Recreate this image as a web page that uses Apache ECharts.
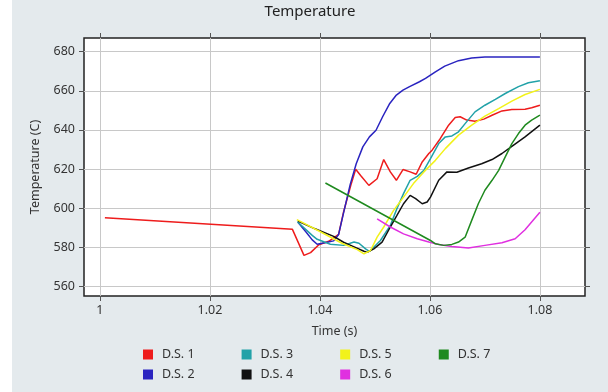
<!DOCTYPE html>
<html><head><meta charset="utf-8">
<script src="https://cdn.jsdelivr.net/npm/echarts@6/dist/echarts.min.js"></script>
<style>html,body{margin:0;padding:0;background:#fff;overflow:hidden}#chart{position:absolute;left:12px;top:0;width:596px;height:392px;}</style>
</head><body><div id="chart"></div>
<script>
const seriesNames = ['D.S. 1', 'D.S. 2', 'D.S. 3', 'D.S. 4', 'D.S. 5', 'D.S. 6', 'D.S. 7'];
const ds1 = [[1.0009,595.0],[1.0350,589.1],[1.0371,575.8],[1.0383,577.2],[1.0398,581.2],[1.0416,583.0],[1.0434,586.5],[1.0443,598.0],[1.0456,611.5],[1.0465,619.8],[1.0474,616.7],[1.0489,611.6],[1.0504,615.0],[1.0516,624.8],[1.0528,618.5],[1.0539,614.2],[1.0551,619.7],[1.0564,618.5],[1.0575,617.3],[1.0586,623.6],[1.0598,627.9],[1.0604,629.6],[1.0619,635.6],[1.0634,642.4],[1.0646,646.3],[1.0655,646.7],[1.0667,645.0],[1.0682,644.4],[1.0698,645.5],[1.0713,647.5],[1.0731,649.7],[1.0749,650.4],[1.0773,650.6],[1.0785,651.3],[1.0800,652.6]];
const ds2 = [[1.0360,592.7],[1.0374,588.0],[1.0386,583.7],[1.0395,581.5],[1.0413,582.5],[1.0425,583.2],[1.0434,586.5],[1.0443,597.5],[1.0455,612.0],[1.0466,622.7],[1.0478,631.3],[1.0490,636.4],[1.0502,639.8],[1.0514,646.7],[1.0527,653.5],[1.0539,657.8],[1.0551,660.3],[1.0563,662.1],[1.0581,664.6],[1.0592,666.3],[1.0610,669.7],[1.0627,672.6],[1.0652,675.4],[1.0676,676.8],[1.0700,677.3],[1.0800,677.3]];
const ds3 = [[1.0359,593.0],[1.0386,586.0],[1.0395,584.0],[1.0419,581.5],[1.0443,580.9],[1.0462,582.6],[1.0471,582.0],[1.0483,579.1],[1.0490,577.8],[1.0510,583.4],[1.0528,591.1],[1.0540,599.7],[1.0552,607.4],[1.0564,614.2],[1.0577,616.2],[1.0589,619.3],[1.0601,625.3],[1.0616,633.0],[1.0628,636.4],[1.0640,636.9],[1.0652,639.0],[1.0664,643.2],[1.0682,649.2],[1.0700,652.6],[1.0719,655.6],[1.0737,658.6],[1.0761,662.1],[1.0779,664.1],[1.0800,665.1]];
const ds4 = [[1.0360,593.3],[1.0390,589.5],[1.0425,585.5],[1.0443,582.5],[1.0456,580.9],[1.0480,577.9],[1.0486,577.4],[1.0498,579.1],[1.0513,582.6],[1.0528,590.3],[1.0540,596.2],[1.0552,602.2],[1.0564,606.5],[1.0574,604.8],[1.0586,602.2],[1.0595,603.1],[1.0601,605.6],[1.0616,614.2],[1.0631,618.5],[1.0649,618.3],[1.0670,620.5],[1.0694,622.7],[1.0713,624.8],[1.0731,627.9],[1.0749,631.6],[1.0773,636.4],[1.0800,642.4]];
const ds5 = [[1.0358,594.1],[1.0400,588.0],[1.0440,582.0],[1.0468,578.7],[1.0480,576.6],[1.0492,578.3],[1.0504,585.1],[1.0516,590.3],[1.0534,598.8],[1.0552,605.6],[1.0570,612.5],[1.0589,618.5],[1.0610,624.4],[1.0628,630.4],[1.0652,637.3],[1.0676,642.4],[1.0700,647.0],[1.0725,650.9],[1.0749,654.7],[1.0773,658.1],[1.0800,660.7]];
const ds6 = [[1.0504,594.5],[1.0528,590.3],[1.0552,586.8],[1.0577,584.3],[1.0598,582.6],[1.0616,581.4],[1.0640,580.3],[1.0670,579.6],[1.0700,580.9],[1.0731,582.2],[1.0755,584.3],[1.0773,588.9],[1.0800,597.9]];
const ds7 = [[1.0410,612.8],[1.0601,583.4],[1.0610,581.7],[1.0625,580.9],[1.0640,581.4],[1.0652,582.6],[1.0664,585.1],[1.0676,593.7],[1.0688,602.2],[1.0700,609.1],[1.0713,614.2],[1.0725,619.3],[1.0737,626.2],[1.0749,633.0],[1.0761,638.1],[1.0773,642.4],[1.0785,645.0],[1.0800,647.5]];
const xTicks = [1, 1.02, 1.04, 1.06, 1.08];
const yTicks = [560, 580, 600, 620, 640, 660, 680];
const colors = ['#ee1c1c', '#2a24c0', '#22a2a8', '#111111', '#f2f21a', '#e030e0', '#1f8a1f'];
const allData = [ds1, ds2, ds3, ds4, ds5, ds6, ds7];

const FONT = "'Noto Sans', sans-serif";
const X_MIN = 0.9971, X_MAX = 1.0882, Y_MIN = 555, Y_MAX = 687;
const tickStyle = {color: '#555', width: 1};

const chart = echarts.init(document.getElementById('chart'), null, {renderer: 'canvas'});
const legendCommon = {
  icon: 'rect', itemWidth: 10, itemHeight: 10, itemGap: 47, padding: 0, orient: 'horizontal',
  textStyle: {fontFamily: FONT, fontSize: 12.5, color: '#333', padding: [0, 0, 0, 4]}
};
chart.setOption({
  animation: false,
  backgroundColor: '#e4eaed',
  color: colors,
  title: {text: 'Temperature', left: 'center', top: 4, padding: 0,
    textStyle: {fontFamily: FONT, fontSize: 15, fontWeight: 'normal', color: '#222'}},
  legend: [
    Object.assign({}, legendCommon, {left: 131, top: 348, data: [seriesNames[0], seriesNames[2], seriesNames[4], seriesNames[6]]}),
    Object.assign({}, legendCommon, {left: 131, top: 368, data: [seriesNames[1], seriesNames[3], seriesNames[5]]})
  ],
  grid: {left: 72, right: 23, top: 38, bottom: 96, show: true, backgroundColor: '#ffffff', borderColor: '#222', borderWidth: 1.5, containLabel: false},
  xAxis: [
    {type: 'value', position: 'bottom', min: X_MIN, max: X_MAX,
      name: 'Time (s)', nameLocation: 'middle', nameGap: 29,
      nameTextStyle: {fontFamily: FONT, fontSize: 12.5, color: '#333'},
      axisLine: {show: false, onZero: false},
      axisTick: {show: true, inside: false, length: 5, customValues: xTicks, lineStyle: tickStyle},
      axisLabel: {customValues: xTicks, margin: 8, fontFamily: FONT, fontSize: 12.5, color: '#333',
        formatter: v => String(+(+v).toFixed(2))},
      splitLine: {show: true, lineStyle: {color: '#c8c8c8', width: 1}}},
    {type: 'value', position: 'top', min: X_MIN, max: X_MAX,
      axisLine: {show: false, onZero: false},
      axisTick: {show: true, inside: false, length: 5, customValues: xTicks, lineStyle: tickStyle},
      axisLabel: {show: false}, splitLine: {show: false}}
  ],
  yAxis: [
    {type: 'value', position: 'left', min: Y_MIN, max: Y_MAX,
      name: 'Temperature (C)', nameLocation: 'middle', nameGap: 42, nameRotate: 90,
      nameTextStyle: {fontFamily: FONT, fontSize: 12.5, color: '#333'},
      axisLine: {show: false, onZero: false},
      axisTick: {show: true, inside: false, length: 5, customValues: yTicks, lineStyle: tickStyle},
      axisLabel: {customValues: yTicks, margin: 9, fontFamily: FONT, fontSize: 12.5, color: '#333'},
      splitLine: {show: true, lineStyle: {color: '#c8c8c8', width: 1}}},
    {type: 'value', position: 'right', min: Y_MIN, max: Y_MAX,
      axisLine: {show: false, onZero: false},
      axisTick: {show: true, inside: false, length: 5, customValues: yTicks, lineStyle: tickStyle},
      axisLabel: {show: false}, splitLine: {show: false}}
  ],
  series: allData.map((d, i) => ({
    name: seriesNames[i], type: 'line', xAxisIndex: 0, yAxisIndex: 0,
    data: d, showSymbol: false, symbol: 'none', smooth: false,
    lineStyle: {width: 1.5, color: colors[i]}, itemStyle: {color: colors[i]},
    emphasis: {disabled: true}
  }))
});
</script></body></html>
